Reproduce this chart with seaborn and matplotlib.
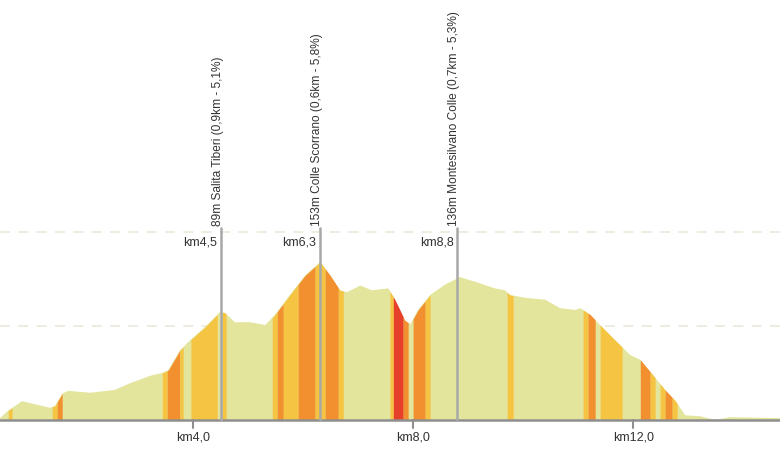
import numpy as np
import matplotlib
matplotlib.use("Agg")
import matplotlib.pyplot as plt
import seaborn as sns

# elevation profile (km, m)
km = [0.49, 0.64, 0.89, 1.40, 1.49, 1.62, 1.73, 2.13, 2.58, 2.85, 3.22, 3.44, 3.55, 3.76,
      3.95, 4.22, 4.49, 4.58, 4.76, 5.04, 5.31, 5.49, 5.76, 6.04, 6.31, 6.49, 6.67, 6.80,
      7.04, 7.25, 7.55, 7.67, 7.85, 7.95, 8.09, 8.31, 8.58, 8.85, 9.13, 9.49, 9.67, 9.76,
      10.04, 10.40, 10.67, 10.95, 11.04, 11.22, 11.40, 11.67, 11.95, 12.13, 12.40, 12.58,
      12.76, 12.95, 13.22, 13.49, 13.76, 14.67]
elev = [2, 10, 20, 13, 15, 28, 31, 29, 32, 39, 47, 50, 53, 74,
        85, 99, 115, 114, 104, 104, 101, 112, 133, 154, 168, 154, 138, 136,
        143, 138, 140, 128, 106, 102, 117, 133, 144, 152, 147, 140, 138, 133,
        130, 128, 119, 117, 119, 112, 101, 85, 69, 64, 45, 32,
        21, 5, 4, 0, 3, 2]

# gradient bands: start km, end km, class
band_start = [0.64, 1.44, 1.53, 3.44, 3.53, 3.76, 3.96, 4.53, 5.44, 5.53, 5.64, 5.91, 6.22,
              6.40, 6.64, 7.58, 7.64, 7.82, 8.00, 8.22, 9.71, 11.09, 11.18, 11.40, 12.13,
              12.31, 12.49, 12.58, 12.71]
band_end = [0.71, 1.53, 1.62, 3.53, 3.76, 3.82, 4.44, 4.60, 5.53, 5.64, 5.91, 6.22, 6.40,
            6.64, 6.73, 7.64, 7.82, 7.91, 8.22, 8.31, 9.82, 11.18, 11.31, 11.80, 12.31,
            12.40, 12.58, 12.71, 12.80]
band_class = ["Y", "Y", "O", "Y", "O", "Y", "Y", "Y", "Y", "O", "Y", "O", "Y",
              "O", "Y", "Y", "R", "O", "O", "Y", "Y", "Y", "O", "Y", "O",
              "Y", "Y", "O", "Y"]
colors = {"P": "#e3e59c", "Y": "#f6c443", "O": "#f28f2f", "R": "#e6402a"}

# climbs
climb_km = [4.5, 6.3, 8.8]
climb_km_label = ["km4,5", "km6,3", "km8,8"]
climb_names = ["89m Salita Tiberi (0,9km - 5,1%)",
               "153m Colle Scorrano (0,6km - 5,8%)",
               "136m Montesilvano Colle (0,7km - 5,3%)"]

ticks = [4, 8, 12]
tick_labels = ["km4,0", "km8,0", "km12,0"]

sns.set_style("white")
plt.rcParams["font.family"] = ["Liberation Sans Narrow", "Liberation Sans", "DejaVu Sans"]
fig = plt.figure(figsize=(7.8, 4.7), dpi=100)
ax = fig.add_axes([0, 0, 1, 1])
ax.set_xlim(0.49, 14.67)
ax.set_ylim(-53.2, 446.8)

for g in [100, 200]:
    ax.axhline(g, color="#ebe8da", lw=1.2, ls=(0, (6, 5)), zorder=0)

ax.fill_between(km, elev, 0, color=colors["P"], lw=0, zorder=1)
for s, e, c in zip(band_start, band_end, band_class):
    xs = np.linspace(s, e, 20)
    ax.fill_between(xs, np.interp(xs, km, elev), 0, color=colors[c], lw=0, zorder=2)

ax.axhline(0, color="#8f8f8f", lw=1.8, zorder=3)
for t, lab in zip(ticks, tick_labels):
    ax.plot([t, t], [0, -8], color="#8f8f8f", lw=1.5, zorder=3)
    ax.text(t, -12, lab, ha="center", va="top", fontsize=9, color="#333333")

for k, kl, nm in zip(climb_km, climb_km_label, climb_names):
    ax.plot([k, k], [0, 204], color="#a8a8a8", lw=1.8, zorder=4)
    ax.text(k - 0.06, 189, kl, ha="right", va="center", fontsize=9, color="#333333")
    ax.text(k - 0.05, 206, nm, rotation=90, ha="center", va="bottom", fontsize=8.6,
            color="#333333")

ax.axis("off")
fig.savefig("out.png", dpi=100)
